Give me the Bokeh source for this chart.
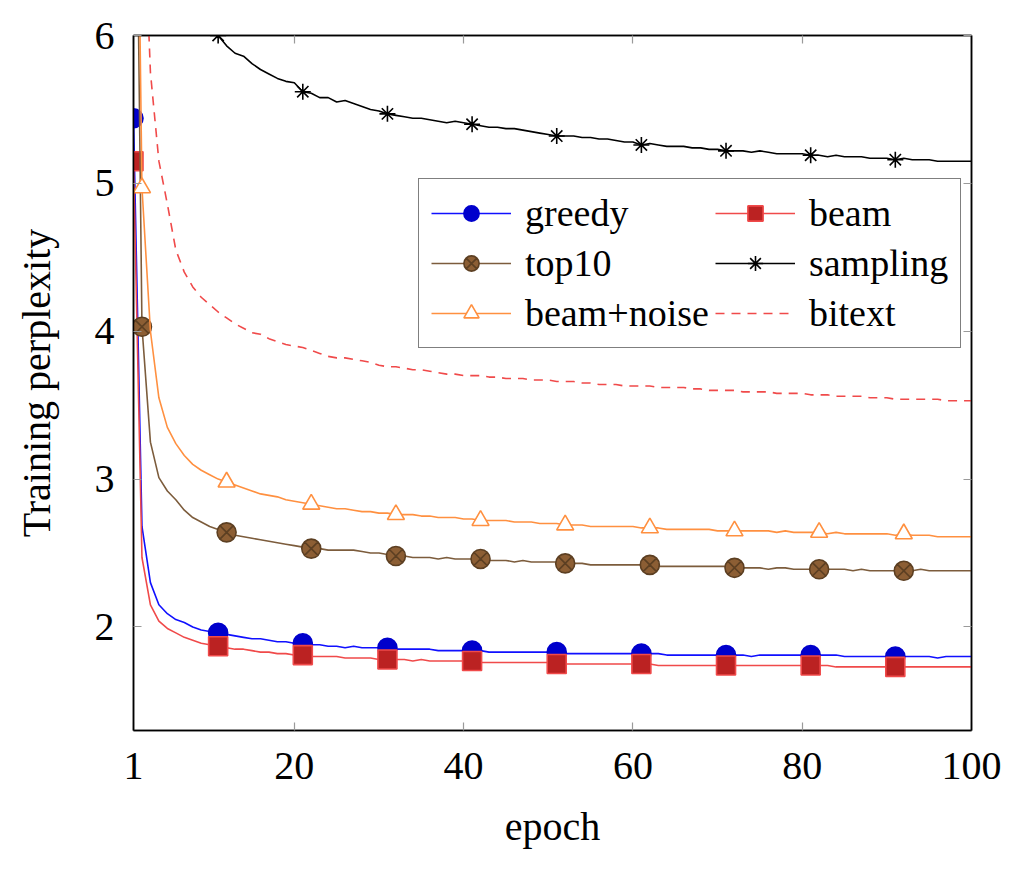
from bokeh.plotting import figure
from bokeh.models import Legend, LegendItem, FixedTicker, LinearAxis, Range1d
from bokeh.embed import file_html
from bokeh.resources import INLINE

epochs = list(range(1, 101))

greedy = [5.44, 2.68, 2.30, 2.15, 2.09, 2.05, 2.03, 2.00, 1.98, 1.97,
          1.96, 1.95, 1.94, 1.93, 1.92, 1.92, 1.91, 1.90, 1.90, 1.89,
          1.89, 1.88, 1.88, 1.87, 1.87, 1.86, 1.87, 1.86, 1.86, 1.86,
          1.86, 1.85, 1.85, 1.85, 1.85, 1.85, 1.84, 1.84, 1.84, 1.84,
          1.84, 1.84, 1.83, 1.83, 1.83, 1.83, 1.83, 1.83, 1.83, 1.83,
          1.83, 1.82, 1.82, 1.82, 1.82, 1.82, 1.82, 1.82, 1.82, 1.82,
          1.82, 1.82, 1.82, 1.81, 1.81, 1.81, 1.81, 1.81, 1.81, 1.81,
          1.81, 1.81, 1.81, 1.80, 1.81, 1.81, 1.81, 1.81, 1.81, 1.81,
          1.81, 1.81, 1.81, 1.81, 1.80, 1.80, 1.80, 1.80, 1.80, 1.80,
          1.80, 1.80, 1.80, 1.80, 1.80, 1.79, 1.80, 1.80, 1.80, 1.80]

beam = [5.15, 2.47, 2.15, 2.04, 1.99, 1.96, 1.93, 1.91, 1.89, 1.88,
        1.87, 1.86, 1.85, 1.85, 1.84, 1.83, 1.83, 1.82, 1.82, 1.81,
        1.81, 1.80, 1.80, 1.80, 1.80, 1.79, 1.79, 1.79, 1.79, 1.78,
        1.78, 1.78, 1.78, 1.77, 1.78, 1.77, 1.77, 1.77, 1.77, 1.77,
        1.77, 1.76, 1.76, 1.76, 1.76, 1.76, 1.76, 1.76, 1.76, 1.76,
        1.75, 1.75, 1.75, 1.75, 1.75, 1.75, 1.75, 1.75, 1.75, 1.75,
        1.75, 1.75, 1.74, 1.74, 1.74, 1.74, 1.74, 1.74, 1.74, 1.74,
        1.74, 1.74, 1.74, 1.74, 1.74, 1.74, 1.74, 1.74, 1.74, 1.74,
        1.74, 1.74, 1.74, 1.73, 1.73, 1.73, 1.73, 1.73, 1.73, 1.73,
        1.73, 1.73, 1.73, 1.73, 1.73, 1.73, 1.73, 1.73, 1.73, 1.73]

top10 = [9.00, 4.03, 3.25, 3.01, 2.92, 2.86, 2.79, 2.74, 2.71, 2.68,
         2.66, 2.64, 2.62, 2.61, 2.60, 2.59, 2.58, 2.57, 2.56, 2.55,
         2.54, 2.53, 2.53, 2.52, 2.52, 2.52, 2.52, 2.51, 2.50, 2.50,
         2.49, 2.48, 2.48, 2.47, 2.47, 2.47, 2.46, 2.47, 2.46, 2.46,
         2.46, 2.46, 2.45, 2.45, 2.45, 2.44, 2.45, 2.44, 2.44, 2.44,
         2.44, 2.43, 2.43, 2.43, 2.42, 2.42, 2.42, 2.42, 2.42, 2.42,
         2.42, 2.42, 2.41, 2.41, 2.41, 2.41, 2.41, 2.41, 2.41, 2.41,
         2.41, 2.40, 2.40, 2.40, 2.40, 2.39, 2.40, 2.40, 2.39, 2.39,
         2.39, 2.39, 2.39, 2.39, 2.39, 2.38, 2.39, 2.38, 2.38, 2.38,
         2.38, 2.38, 2.38, 2.39, 2.38, 2.38, 2.38, 2.38, 2.38, 2.38]

sampling = [14.0, 9.50, 8.30, 7.60, 7.10, 6.80, 6.55, 6.35, 6.20, 6.10,
            6.00, 5.93, 5.88, 5.86, 5.81, 5.77, 5.74, 5.71, 5.69, 5.68,
            5.62, 5.61, 5.58, 5.58, 5.55, 5.56, 5.54, 5.52, 5.50, 5.49,
            5.47, 5.46, 5.45, 5.44, 5.44, 5.43, 5.42, 5.41, 5.42, 5.41,
            5.40, 5.39, 5.38, 5.38, 5.37, 5.37, 5.36, 5.35, 5.34, 5.33,
            5.32, 5.32, 5.32, 5.31, 5.31, 5.30, 5.30, 5.29, 5.28, 5.28,
            5.26, 5.27, 5.26, 5.25, 5.25, 5.25, 5.24, 5.24, 5.23, 5.23,
            5.22, 5.22, 5.22, 5.21, 5.22, 5.21, 5.20, 5.20, 5.20, 5.20,
            5.19, 5.19, 5.18, 5.19, 5.18, 5.18, 5.18, 5.17, 5.17, 5.17,
            5.16, 5.17, 5.16, 5.16, 5.16, 5.15, 5.15, 5.15, 5.15, 5.15]

beam_noise = [9.50, 4.97, 4.00, 3.55, 3.35, 3.24, 3.16, 3.10, 3.06, 3.03,
              3.00, 2.98, 2.96, 2.94, 2.92, 2.90, 2.89, 2.88, 2.86, 2.85,
              2.84, 2.83, 2.82, 2.81, 2.80, 2.80, 2.79, 2.78, 2.78, 2.77,
              2.77, 2.76, 2.76, 2.76, 2.75, 2.75, 2.74, 2.74, 2.74, 2.73,
              2.73, 2.72, 2.72, 2.72, 2.72, 2.71, 2.71, 2.71, 2.70, 2.70,
              2.70, 2.69, 2.69, 2.69, 2.68, 2.68, 2.68, 2.68, 2.68, 2.68,
              2.67, 2.67, 2.67, 2.66, 2.66, 2.66, 2.66, 2.66, 2.66, 2.65,
              2.65, 2.65, 2.65, 2.65, 2.65, 2.65, 2.64, 2.65, 2.64, 2.64,
              2.64, 2.64, 2.63, 2.64, 2.63, 2.63, 2.63, 2.63, 2.63, 2.63,
              2.62, 2.63, 2.62, 2.62, 2.62, 2.61, 2.61, 2.61, 2.61, 2.61]

bitext = [15.0, 7.20, 5.75, 5.15, 4.86, 4.55, 4.40, 4.30, 4.23, 4.18,
          4.13, 4.09, 4.05, 4.02, 3.99, 3.98, 3.95, 3.93, 3.91, 3.90,
          3.89, 3.87, 3.85, 3.83, 3.82, 3.82, 3.81, 3.80, 3.79, 3.77,
          3.76, 3.76, 3.75, 3.74, 3.74, 3.73, 3.72, 3.71, 3.71, 3.70,
          3.70, 3.70, 3.69, 3.69, 3.68, 3.68, 3.68, 3.67, 3.67, 3.67,
          3.66, 3.66, 3.66, 3.65, 3.65, 3.64, 3.64, 3.64, 3.63, 3.63,
          3.63, 3.63, 3.62, 3.62, 3.62, 3.62, 3.61, 3.61, 3.60, 3.60,
          3.60, 3.60, 3.59, 3.59, 3.59, 3.59, 3.58, 3.58, 3.58, 3.58,
          3.57, 3.57, 3.57, 3.56, 3.56, 3.56, 3.56, 3.55, 3.55, 3.55,
          3.54, 3.54, 3.54, 3.54, 3.54, 3.54, 3.53, 3.53, 3.53, 3.53]

x_ticks = [1, 20, 40, 60, 80, 100]
y_ticks = [2, 3, 4, 5, 6]

FONT = "Liberation Serif"

p = figure(width=1016, height=863, x_range=Range1d(1, 100), y_range=Range1d(1.3, 6),
           output_backend="svg", toolbar_location=None,
           min_border_left=133, min_border_right=45, min_border_top=35, min_border_bottom=133)
p.grid.visible = False
p.outline_line_color = "black"
p.outline_line_width = 1.5
p.background_fill_color = "white"
p.border_fill_color = "white"

def style_axis(ax, labels=True):
    ax.axis_line_color = "black"
    ax.axis_line_width = 1.5
    ax.major_tick_in = 8
    ax.major_tick_out = 0
    ax.minor_tick_line_color = None
    ax.major_tick_line_color = "#9a9a9a"
    ax.major_tick_line_width = 1.2
    ax.major_label_text_font = FONT
    ax.major_label_text_color = "black"
    if labels:
        ax.major_label_text_font_size = "40px"
    else:
        ax.major_label_text_font_size = "2px"
        ax.major_label_text_color = None
        ax.major_label_standoff = 0

xa = p.xaxis[0]
ya = p.yaxis[0]
xa.ticker = FixedTicker(ticks=x_ticks)
ya.ticker = FixedTicker(ticks=y_ticks)
style_axis(xa)
style_axis(ya)
xa.major_label_standoff = 22
ya.major_label_standoff = 19
xa.axis_label = "epoch"
ya.axis_label = "Training perplexity"
for ax in (xa, ya):
    ax.axis_label_text_font = FONT
    ax.axis_label_text_font_size = "40px"
    ax.axis_label_text_font_style = "normal"
    ax.axis_label_text_color = "black"
xa.axis_label_standoff = 22
ya.axis_label_standoff = 33

top = LinearAxis(ticker=FixedTicker(ticks=x_ticks))
style_axis(top, labels=False)
p.add_layout(top, "above")
right = LinearAxis(ticker=FixedTicker(ticks=y_ticks))
style_axis(right, labels=False)
p.add_layout(right, "right")

series = [
    # name, values, line color, dash, marker, size, fill, marker line, phase
    ("greedy", greedy, "#1010ff", "solid", "circle", 19, "#0000cc", "#0000cc", 0),
    ("beam", beam, "#f04a4a", "solid", "square", 19, "#bb2222", "#f04a4a", 0),
    ("top10", top10, "#7c5c3c", "solid", "circle_x", 19, "#8c5e34", "#5c3f22", 1),
    ("sampling", sampling, "black", "solid", "asterisk", 16, None, "black", 0),
    ("beam+noise", beam_noise, "#ff9040", "solid", "triangle", 17, "white", "#ff9040", 1),
    ("bitext", bitext, "#f04a4a", "9 7", None, 0, None, None, 0),
]

items = {}
for name, vals, lc, dash, marker, size, fill, mlc, phase in series:
    rs = [p.line(epochs, vals, line_color=lc, line_width=1.6, line_dash=dash)]
    if marker is not None:
        mx = epochs[phase::10]
        my = vals[phase::10]
        rs.append(p.scatter(mx, my, marker=marker, size=size, fill_color=fill,
                            line_color=mlc, line_width=1.6))
    items[name] = LegendItem(label=name, renderers=rs)

order = ["greedy", "top10", "beam+noise", "beam", "sampling", "bitext"]
legend = Legend(items=[items[n] for n in order], ncols=2, location=(285, 382),
                orientation="vertical")
legend.label_text_font = FONT
legend.label_text_font_size = "38px"
legend.label_text_color = "black"
legend.label_height = 38
legend.glyph_height = 38
legend.glyph_width = 80
legend.label_standoff = 14
legend.spacing = 6
legend.padding = 12
legend.margin = 0
legend.border_line_color = "black"
legend.border_line_width = 1.5
legend.background_fill_alpha = 1
p.add_layout(legend, "center")

open("out.html", "w").write(file_html(p, INLINE))
